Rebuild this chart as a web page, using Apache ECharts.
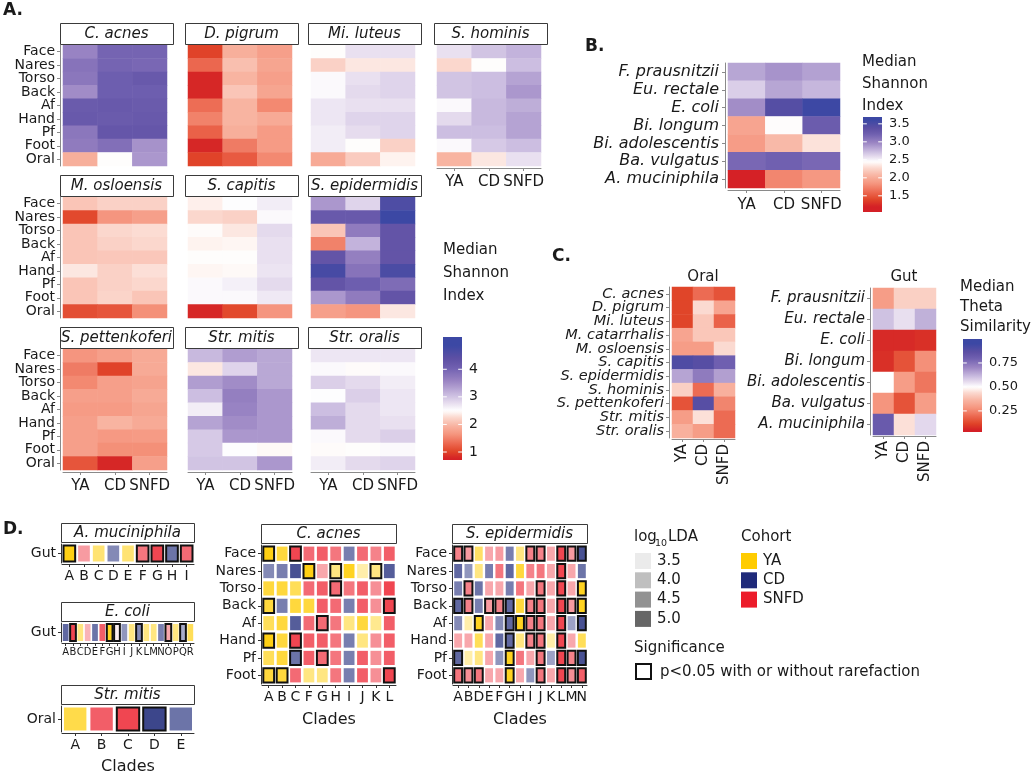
<!DOCTYPE html>
<html><head><meta charset="utf-8">
<script src="https://cdn.jsdelivr.net/npm/echarts@6/dist/echarts.min.js"></script>
<style>html,body{margin:0;padding:0;background:#fff}#c{width:1035px;height:774px}</style>
</head><body><div id="c"></div><script>
// ---------------- DATA ----------------
const cohortNames = ['YA','CD','SNFD'];
const bodySites = ['Face','Nares','Torso','Back','Af','Hand','Pf','Foot','Oral'];
// Panel A: median Shannon index (rows = bodySites, cols = cohortNames)
const cAcnes = [[3.6,4.0,4.0],[3.8,4.0,3.95],[3.75,4.1,4.2],[3.5,4.1,4.1],[4.15,4.2,4.15],[4.2,4.15,4.2],[3.75,4.25,4.25],[3.7,3.85,3.45],[1.9,2.5,3.4]];
const dPigrum = [[1.0,1.9,1.75],[1.3,2.05,1.8],[0.8,1.95,1.75],[0.8,2.1,1.8],[1.35,1.95,1.55],[1.5,1.95,1.85],[1.25,1.9,1.7],[0.8,1.45,1.7],[1.0,1.2,1.55]];
const miLuteus = [[2.5,2.75,2.75],[2.2,2.35,2.35],[2.55,2.75,2.85],[2.55,2.8,2.85],[2.7,2.75,2.75],[2.7,2.85,2.85],[2.65,2.78,2.85],[2.65,2.5,2.2],[1.85,2.15,2.42]];
const sHominis = [[2.75,3.0,3.15],[2.25,2.5,3.05],[3.0,3.05,3.3],[3.0,3.05,3.4],[2.55,3.1,3.2],[2.8,3.1,3.3],[3.05,3.05,3.3],[2.55,2.95,3.05],[1.95,2.35,2.75]];
const mOsloensis = [[2.1,2.2,2.2],[1.05,1.65,1.75],[2.1,2.25,2.28],[2.1,2.2,2.25],[2.1,2.12,2.12],[2.35,2.2,2.3],[2.1,2.2,2.25],[2.1,2.22,2.1],[1.1,1.15,1.6]];
const sCapitis = [[2.4,2.52,2.65],[2.25,2.2,2.55],[2.48,2.35,2.8],[2.42,2.44,2.75],[2.5,2.5,2.75],[2.44,2.46,2.72],[2.55,2.62,2.8],[2.55,2.55,2.68],[0.8,1.05,1.65]];
const sEpidermidis = [[3.4,2.85,4.6],[4.2,4.2,4.85],[2.1,3.7,4.3],[1.5,3.15,4.3],[4.3,3.65,4.3],[4.7,3.8,4.65],[4.3,4.1,3.9],[3.4,3.7,4.3],[1.75,1.65,2.35]];
const sPettenkoferi = [[1.65,1.75,1.85],[1.45,1.0,1.85],[1.55,1.75,1.78],[1.75,1.75,1.85],[1.7,1.7,1.8],[1.75,1.95,1.85],[1.75,1.68,1.7],[1.75,1.6,1.6],[1.15,0.8,1.75]];
const strMitis = [[3.1,3.35,3.25],[2.35,2.85,3.25],[3.35,3.5,3.25],[3.05,3.65,3.4],[2.65,3.6,3.4],[3.3,3.5,3.4],[2.95,3.4,3.4],[2.95,2.52,2.46],[3.0,3.0,3.4]];
const strOralis = [[2.7,2.7,2.7],[2.55,2.48,2.55],[2.9,2.8,2.65],[2.52,2.9,2.7],[3.05,2.8,2.7],[3.2,2.8,2.75],[2.55,2.8,2.9],[2.48,2.5,2.55],[2.65,2.8,2.85]];
const facetNamesA = ['C. acnes','M. osloensis','S. pettenkoferi','D. pigrum','S. capitis','Str. mitis','Mi. luteus','S. epidermidis','Str. oralis','S. hominis'];
const facetValuesA = [cAcnes,mOsloensis,sPettenkoferi,dPigrum,sCapitis,strMitis,miLuteus,sEpidermidis,strOralis,sHominis];
const ticksA = [1,2,3,4];

// Panel B: gut median Shannon index
const gutSpecies = ['F. prausnitzii','Eu. rectale','E. coli','Bi. longum','Bi. adolescentis','Ba. vulgatus','A. muciniphila'];
const gutShannon = [[2.83,2.91,2.85],[2.65,2.83,2.75],[2.94,3.43,3.6],[1.95,2.45,3.25],[1.89,2.09,2.32],[3.16,3.21,3.16],[1.2,1.76,1.86]];
const ticksB = [1.5,2.0,2.5,3.0,3.5];

// Panel C: median theta similarity
const oralSpecies = ['C. acnes','D. pigrum','Mi. luteus','M. catarrhalis','M. osloensis','S. capitis','S. epidermidis','S. hominis','S. pettenkoferi','Str. mitis','Str. oralis'];
const oralTheta = [[0.12,0.2,0.15],[0.12,0.44,0.32],[0.12,0.4,0.18],[0.32,0.4,0.4],[0.3,0.3,0.44],[0.9,0.88,0.8],[0.65,0.73,0.66],[0.42,0.2,0.35],[0.15,0.88,0.25],[0.3,0.45,0.2],[0.35,0.3,0.2]];
const gutTheta = [[0.3,0.42,0.42],[0.6,0.55,0.63],[0.07,0.07,0.08],[0.08,0.15,0.27],[0.5,0.3,0.22],[0.28,0.15,0.3],[0.82,0.45,0.56]];
const ticksC = [0.25,0.5,0.75];

// Panel D: tiles "cohort(Y/C/S) + log10LDA*10 + * if significant"
const skinSites = ['Face','Nares','Torso','Back','Af','Hand','Pf','Foot'];
const amucClades = ['A','B','C','D','E','F','G','H','I'];
const amucTiles = ['Y50* S41 Y43 C43 Y43 S44* S48* C45* S45*'];
const ecoliClades = ['A','B','C','D','E','F','G','H','I','J','K','L','M','N','O','P','Q','R'];
const ecoliTiles = ['C46 S48* Y42 S39 C45 S46 Y49* S34* C42 Y42 C43* Y42 Y42 C44 S40* Y42 C40* Y45'];
const strMitisClades = ['A','B','C','D','E'];
const strMitisTiles = ['Y46 S46 S48* C49* C45'];
const cAcnesClades = ['A','B','C','F','G','H','I','J','K','L'];
const cAcnesTiles = [
 'Y50* Y47 S48* S45 S46 S44 C44 S45 S43 S46',
 'C43 C44 C48 Y50* S40 Y42* Y49 Y39 Y42* C47',
 'Y47 Y47 Y45 S45 S46 S45* S44 S46 S42 S48',
 'Y47* C44 Y47 Y47 S46 S45 C44 S46 S42 S48*',
 'Y45 Y47 C47 S45 S45* S44 Y42 Y47 Y41 S46',
 'Y50* Y47 S48* S46 S46 S44 C44 Y42 S42 S46',
 'Y45 Y47 C45* S46 S45* S44 C44 S46 S42 S46',
 'Y47* Y47* S45 Y42 Y42 S44 C44 S46 S42 S48*'];
const sEpiClades = ['A','B','D','E','F','G','H','I','J','K','L','M','N'];
const sEpiTiles = [
 'S43* S41* Y44 S40 S41 C44 Y42 S43* S43* S40 S48* S41* C48*',
 'C46 C42 Y42 C44 S44 C46 Y47 S43 S44 S40 S48* S40 C45',
 'C44 S43* C45 S40 S40 C44 S44 S40 S44* S40 S48* S40 Y49*',
 'C46* S43* C44 S41* S43* C46* Y47 S43* S44* S40 S48* S41* Y49*',
 'C43 Y39 Y49* S40 C43 C46* Y49* S43* S44* S40 S48* C41 C48*',
 'S40 S40 Y45 S40 C46 C46* Y42 S43* S44* Y39 S48* S40 Y45',
 'C46* Y39 Y42 S40 C42 Y49* S44 S40 S44* C41 S48* S43* C48*',
 'S44* S42* S44* S40 S40 Y49* S40 C42 S44* S40 S48* S42* S46*'];
const ldaLegend = [3.5,4.0,4.5,5.0];

// ---------------- STYLE / HELPERS ----------------
const FONT = 'DejaVu Sans', TXT = '#1a1a1a', AX = '#8a8a8a', DAX = '#333333';
const cohortColors = ['#FFCC00','#1F2A7A','#EC1C2A'];
const RED_SIDE = [[0,'#ffffff'],[0.14,'#fbd8ce'],[0.31,'#f8b4a2'],[0.49,'#f5957e'],[0.68,'#ec6850'],[0.85,'#e04428'],[1,'#d42026']];
const BLUE_SIDE = [[0,'#ffffff'],[0.12,'#e6dcee'],[0.24,'#cbbde0'],[0.45,'#9c86c4'],[0.66,'#7060b0'],[0.8,'#5e50a4'],[1,'#3c48a4']];
const scaleA = {min:0.71,max:5.17,mid:2.5,lo:1.75,hi:2.35};
const scaleB = {min:1.05,max:3.69,mid:2.45,lo:1.25,hi:1.15};
const scaleC = {min:0.03,max:1.0,mid:0.5,lo:0.45,hi:0.45};
function hexToRgb(h){h=h.replace('#','');return [0,2,4].map(i=>parseInt(h.substr(i,2),16));}
function lerpStops(stops,t){
  for(let i=1;i<stops.length;i++){ if(t<=stops[i][0]){const [t0,c0]=stops[i-1],[t1,c1]=stops[i];const f=(t-t0)/(t1-t0);const a=hexToRgb(c0),b=hexToRgb(c1);
    return 'rgb('+a.map((v,k)=>Math.round(v+(b[k]-v)*f)).join(',')+')';}}
  return stops[stops.length-1][1];
}
function divColor(v,sc){ if(v<sc.mid) return lerpStops(RED_SIDE,Math.min(1,(sc.mid-v)/sc.lo)); return lerpStops(BLUE_SIDE,Math.min(1,(v-sc.mid)/sc.hi)); }
function sampleColors(sc,n){const out=[];for(let i=0;i<n;i++){out.push(divColor(sc.min+(sc.max-sc.min)*i/(n-1),sc));}return out;}
function ldaAlpha(l){return Math.max(0.05,Math.min(1,0.12+(l-3.5)*0.535));}
function rgba(hex,a){const c=hexToRgb(hex);return `rgba(${c[0]},${c[1]},${c[2]},${a.toFixed(3)})`;}
function parseTiles(rows){const out=[];rows.forEach((r,yi)=>r.trim().split(/\s+/).forEach((t,xi)=>{out.push([xi,yi,'YCS'.indexOf(t[0]),parseInt(t.substr(1,2))/10,t.endsWith('*')?1:0]);}));return out;}

const grids=[],xAxes=[],yAxes=[],series=[],graphics=[];
function txt(x,y,s,o){o=o||{};graphics.push({type:'text',x:x,y:y,silent:true,z:10,style:{text:s,fill:o.color||TXT,fontSize:o.size||14,fontFamily:FONT,fontStyle:o.italic?'italic':'normal',fontWeight:o.bold?'bold':'normal',align:o.align||'left',verticalAlign:'middle',textAlign:o.align||'left',textVerticalAlign:'middle'}});}
function strip(x,y,w,h,label,size){graphics.push({type:'rect',silent:true,z:5,shape:{x:x+0.5,y:y+0.5,width:w,height:h},style:{fill:'#fff',stroke:'#3a3a3a',lineWidth:1}});txt(x+w/2,y+h/2+1,label,{size:size,italic:true,align:'center'});}
function colorbar(x,y,w,h,sc,ticks,fmt,titleLines,tx,ty0,tgap,tsize){
  const n=60,stops=[];for(let i=0;i<n;i++){const v=sc.max-(sc.max-sc.min)*i/(n-1);stops.push({offset:i/(n-1),color:divColor(v,sc)});}
  graphics.push({type:'rect',silent:true,shape:{x:x,y:y,width:w,height:h},style:{fill:{type:'linear',x:0,y:0,x2:0,y2:1,colorStops:stops}}});
  ticks.forEach(t=>{const yy=y+(sc.max-t)/(sc.max-sc.min)*h;
    graphics.push({type:'line',silent:true,z:6,shape:{x1:x,y1:yy,x2:x+w*0.2,y2:yy},style:{stroke:'#fff',lineWidth:1}});
    graphics.push({type:'line',silent:true,z:6,shape:{x1:x+w*0.8,y1:yy,x2:x+w,y2:yy},style:{stroke:'#fff',lineWidth:1}});
    txt(x+w+7,yy,fmt(t),{size:tsize});});
  titleLines.forEach((s,i)=>txt(tx,ty0+i*tgap,s,{size:15}));
}
function catX(gi,data,show,o){o=o||{};return {type:'category',gridIndex:gi,data:data,offset:o.offset||0,
  axisLine:{show:show,lineStyle:{color:o.axc||AX}},axisTick:{show:show,alignWithLabel:true,length:3,lineStyle:{color:o.axc||AX}},
  axisLabel:{show:show,interval:0,fontSize:o.size||15,color:TXT,margin:o.margin||6,rotate:o.rotate||0,fontFamily:FONT},splitLine:{show:false}};}
function catY(gi,data,show,o){o=o||{};return {type:'category',gridIndex:gi,data:data,inverse:true,offset:o.offset||0,
  axisLine:{show:show,lineStyle:{color:o.axc||AX}},axisTick:{show:show,alignWithLabel:true,length:3,lineStyle:{color:o.axc||AX}},
  axisLabel:{show:show,interval:0,fontSize:o.size||14,color:TXT,margin:o.margin||5,fontStyle:o.italic?'italic':'normal',fontFamily:FONT},splitLine:{show:false}};}
function heat(gi,rows){const d=[];rows.forEach((r,yi)=>r.forEach((v,xi)=>d.push([xi,yi,v])));series.push({type:'heatmap',xAxisIndex:gi,yAxisIndex:gi,data:d,emphasis:{disabled:true},itemStyle:{borderWidth:0},animation:false});return series.length-1;}

// ---------------- PANEL A ----------------
const aCols=[63,188,311,437], aRows=[45,197,349], aW=104, aH=121;
const seriesA=[];
facetNamesA.forEach((nm,i)=>{
  const col=Math.floor(i/3), row=i%3, left=aCols[col], top=aRows[row];
  const bottom=(row===2||i===9);
  grids.push({left:left,top:top,width:aW,height:aH}); const gi=grids.length-1;
  xAxes.push(catX(gi,cohortNames,bottom,{offset:2,margin:7}));
  yAxes.push(catY(gi,bodySites,col===0,{offset:3}));
  seriesA.push(heat(gi,facetValuesA[i]));
  strip(left-3,top-22,113,21,nm,15);
});
txt(3,11,'A.',{bold:true,size:17});
colorbar(443,337,19,123,scaleA,ticksA,t=>String(t),['Median','Shannon','Index'],443,250,23,14);

// ---------------- PANEL B ----------------
grids.push({left:728,top:63,width:112,height:125}); let gB=grids.length-1;
xAxes.push(catX(gB,cohortNames,true,{offset:2,margin:8}));
yAxes.push(catY(gB,gutSpecies,true,{offset:3,italic:true,size:16,margin:6}));
const seriesB=[heat(gB,gutShannon)];
txt(585,47,'B.',{bold:true,size:17});
colorbar(863,117,19,95,scaleB,ticksB,t=>t.toFixed(1),['Median','Shannon','Index'],862,62,22,13);

// ---------------- PANEL C ----------------
grids.push({left:672,top:287,width:63,height:151}); let gCo=grids.length-1;
xAxes.push(catX(gCo,cohortNames,true,{offset:1,rotate:90,margin:5}));
yAxes.push(catY(gCo,oralSpecies,true,{offset:3,italic:true,size:14.5,margin:5}));
grids.push({left:873,top:288,width:63,height:147}); let gCg=grids.length-1;
xAxes.push(catX(gCg,cohortNames,true,{offset:1,rotate:90,margin:5}));
yAxes.push(catY(gCg,gutSpecies,true,{offset:3,italic:true,size:15,margin:5}));
const seriesC=[heat(gCo,oralTheta),heat(gCg,gutTheta)];
txt(552,257,'C.',{bold:true,size:17});
txt(703,277,'Oral',{size:15,align:'center'});
txt(904,277,'Gut',{size:15,align:'center'});
colorbar(963,339,19,93,scaleC,ticksC,t=>t.toFixed(2),['Median','Theta','Similarity'],960,287,20,13);

// ---------------- PANEL D ----------------
function tileSeries(gi,rows,gx,gy){
  series.push({type:'custom',xAxisIndex:gi,yAxisIndex:gi,data:parseTiles(rows),animation:false,
    renderItem:function(params,api){
      const c=api.coord([api.value(0),api.value(1)]),s=api.size([1,1]);
      const w=s[0]-gx,h=s[1]-gy,sig=api.value(4)===1;
      return {type:'rect',shape:{x:c[0]-w/2,y:c[1]-h/2,width:w,height:h},
        style:{fill:rgba(cohortColors[api.value(2)],ldaAlpha(api.value(3))),stroke:sig?'#111':null,lineWidth:sig?2:0}};
    }});
}
const dFacets=[
  {name:'A. muciniphila',rows:['Gut'],clades:amucClades,tiles:amucTiles,box:[62,544,132,19],lab:14,gx:3,gy:3},
  {name:'E. coli',rows:['Gut'],clades:ecoliClades,tiles:ecoliTiles,box:[62,623,132,19],lab:10,gx:1.6,gy:2},
  {name:'Str. mitis',rows:['Oral'],clades:strMitisClades,tiles:strMitisTiles,box:[62,706,132,26],lab:14,gx:4,gy:3},
  {name:'C. acnes',rows:skinSites,clades:cAcnesClades,tiles:cAcnesTiles,box:[262,545,134,139],lab:14,gx:2.6,gy:3.2},
  {name:'S. epidermidis',rows:skinSites,clades:sEpiClades,tiles:sEpiTiles,box:[453,545,134,139],lab:14,gx:2.4,gy:3.2}
];
dFacets.forEach(f=>{
  const [l,t,w,h]=f.box;
  grids.push({left:l,top:t,width:w,height:h}); const gi=grids.length-1;
  xAxes.push(catX(gi,f.clades,true,{axc:DAX,size:f.lab,margin:f.lab<12?4:5,offset:1}));
  yAxes.push(catY(gi,f.rows,true,{axc:DAX,size:14,offset:1}));
  tileSeries(gi,f.tiles,f.gx,f.gy);
  strip(l-1,t-21,w+1,19,f.name,15);
});
txt(3,530,'D.',{bold:true,size:17});
txt(128,767,'Clades',{size:16,align:'center'});
txt(329,720,'Clades',{size:16,align:'center'});
txt(520,720,'Clades',{size:16,align:'center'});
// legend D
txt(634,537,'log',{size:15}); txt(655,544,'10',{size:9.5}); txt(668,537,'LDA',{size:15});
ldaLegend.forEach((v,i)=>{const y=553+i*19.3;graphics.push({type:'rect',silent:true,shape:{x:635,y:y,width:16,height:16},style:{fill:rgba('#595959',ldaAlpha(v))}});txt(657,y+8,v.toFixed(1),{size:15});});
txt(741,537,'Cohort',{size:15});
cohortNames.forEach((c,i)=>{const y=553+i*19.3;graphics.push({type:'rect',silent:true,shape:{x:741,y:y,width:16,height:16},style:{fill:cohortColors[i]}});txt(763,y+8,c,{size:15});});
txt(634,648,'Significance',{size:15});
graphics.push({type:'rect',silent:true,shape:{x:636,y:664,width:15,height:15},style:{fill:'#fff',stroke:'#111',lineWidth:2}});
txt(660,672,'p<0.05 with or without rarefaction',{size:15});

// ---------------- OPTION ----------------
const chart=echarts.init(document.getElementById('c'),null,{renderer:'canvas'});
chart.setOption({
  animation:false,
  textStyle:{fontFamily:FONT},
  grid:grids, xAxis:xAxes, yAxis:yAxes,
  visualMap:[
    {type:'continuous',show:false,seriesIndex:seriesA,dimension:2,min:scaleA.min,max:scaleA.max,inRange:{color:sampleColors(scaleA,100)}},
    {type:'continuous',show:false,seriesIndex:seriesB,dimension:2,min:scaleB.min,max:scaleB.max,inRange:{color:sampleColors(scaleB,100)}},
    {type:'continuous',show:false,seriesIndex:seriesC,dimension:2,min:scaleC.min,max:scaleC.max,inRange:{color:sampleColors(scaleC,100)}}
  ],
  series:series,
  graphic:{elements:graphics}
});
</script></body></html>
